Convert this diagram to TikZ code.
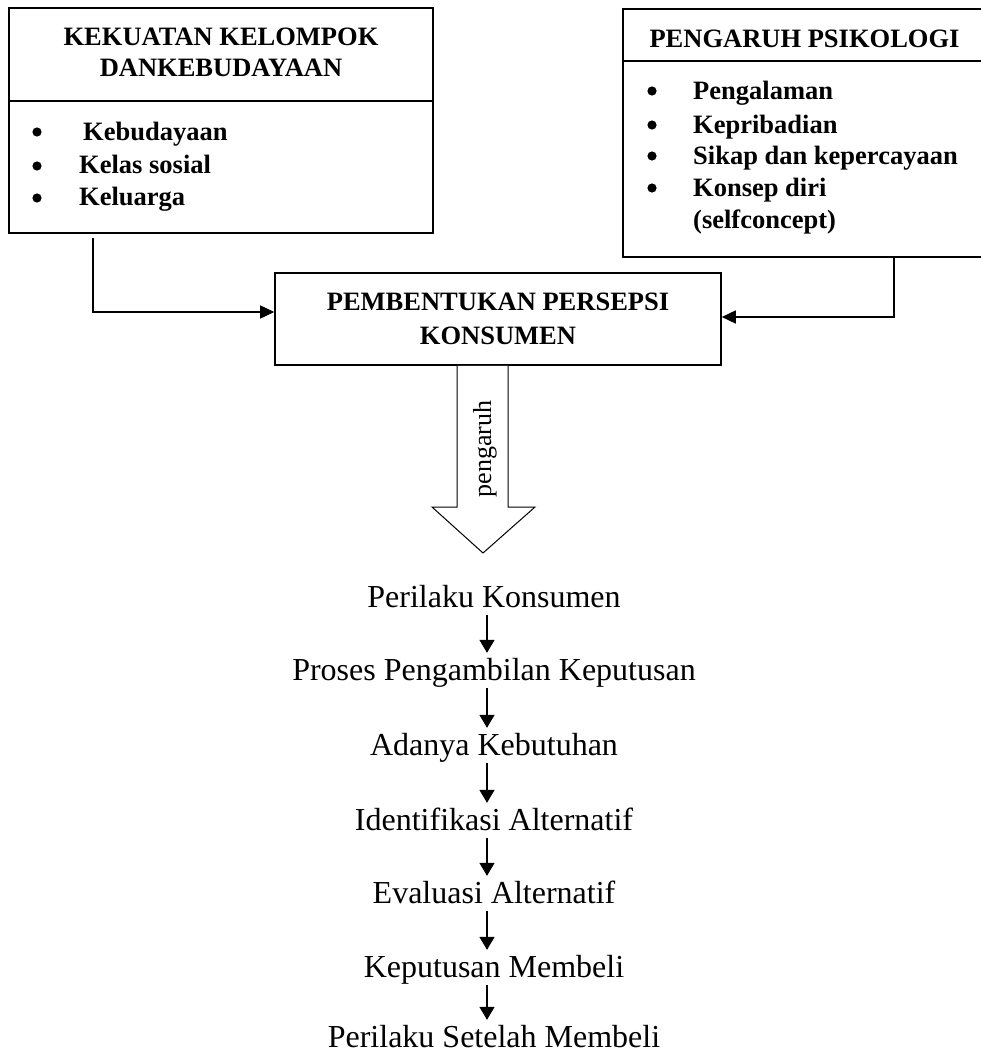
\documentclass[tikz,border=0pt]{standalone}
\usepackage{fontspec}
\setmainfont{Liberation Serif}
\usetikzlibrary{arrows.meta,calc}
\begin{document}
\begin{tikzpicture}[x=1pt,y=-1pt,
  boxframe/.style={draw,line width=1.6pt,inner sep=0pt},
  hd/.style={font=\fontsize{26.5}{31}\selectfont\bfseries,anchor=base,inner sep=0pt},
  item/.style={font=\fontsize{26.5}{31}\selectfont\bfseries,anchor=base west,inner sep=0pt},
  bul/.style={circle,fill=black,inner sep=0pt,minimum size=9.2pt},
  stage/.style={font=\fontsize{32}{38}\selectfont,anchor=base,inner sep=0pt,text height=23pt,text depth=7pt},
  conn/.style={line width=1.6pt,-{Triangle[length=14pt,width=13pt]}},
  smallarrow/.style={line width=1.6pt,-{Triangle[length=13pt,width=15pt]},shorten >=4pt,shorten <=1pt}
]
\useasboundingbox (0,0) rectangle (980,1052);
\fill[white] (0,0) rectangle (980,1052);

% left box
\node[boxframe,minimum width=424pt,minimum height=225pt] (lbox) at (221,120.5) {};
\draw[line width=1.6pt] ($(lbox.north west)+(0,94)$) -- ($(lbox.north east)+(0,94)$);
\node[hd] (lt1) at (221,45) {KEKUATAN KELOMPOK};
\node[hd] (lt2) at (221,76) {DANKEBUDAYAAN};
\node[bul] (lb1) at (37,132) {};
\node[bul] (lb2) at (37,166) {};
\node[bul] (lb3) at (37,198) {};
\node[item] (li1) at (83,140) {Kebudayaan};
\node[item] (li2) at (79,173) {Kelas sosial};
\node[item] (li3) at (79,205) {Keluarga};

% right box
\node[boxframe,minimum width=363pt,minimum height=248pt] (rbox) at (804.5,133) {};
\draw[line width=1.6pt] ($(rbox.north west)+(0,53)$) -- ($(rbox.north east)+(0,53)$);
\node[hd] (rt) at (804.5,47) {PENGARUH PSIKOLOGI};
\node[bul] (rb1) at (652,91) {};
\node[bul] (rb2) at (652,125) {};
\node[bul] (rb3) at (652,156) {};
\node[bul] (rb4) at (652,188) {};
\node[item] (ri1) at (693,99) {Pengalaman};
\node[item] (ri2) at (693,133) {Kepribadian};
\node[item] (ri3) at (693,164) {Sikap dan kepercayaan};
\node[item] (ri4) at (693,196) {Konsep diri};
\node[item] (ri5) at (693,228) {(selfconcept)};

% center box
\node[boxframe,minimum width=446pt,minimum height=92pt,align=center,
      font=\fontsize{26.5}{34}\selectfont\bfseries] (cbox) at (498,319)
      {PEMBENTUKAN PERSEPSI\\KONSUMEN};

% connectors to center box
\coordinate (lx) at (93,0);
\coordinate (rx) at (894,0);
\draw[conn] ($(lbox.south -| lx)+(0,4)$) |- ([yshift=7pt]cbox.west);
\draw[conn] (rbox.south -| rx) |- ([yshift=2pt]cbox.east);

% hollow arrow
\draw[line width=1pt,fill=white] (cbox.south -| 457,0) -- (457,507) -- (432,507) -- (483,553)
   -- (535,507) -- (508,507) -- (cbox.south -| 508,0);
\node[rotate=90,font=\fontsize{26}{30}\selectfont,inner sep=0pt] (pg) at (485,449) {pengaruh};

% stages
\node[stage] (s1) at (494,607) {Perilaku Konsumen};
\node[stage] (s2) at (494,680) {Proses Pengambilan Keputusan};
\node[stage] (s3) at (494,755) {Adanya Kebutuhan};
\node[stage] (s4) at (494,830) {Identifikasi Alternatif};
\node[stage] (s5) at (494,903) {Evaluasi Alternatif};
\node[stage] (s6) at (494,977) {Keputusan Membeli};
\node[stage] (s7) at (494,1047) {Perilaku Setelah Membeli};

\foreach \a/\b in {s1/s2,s2/s3,s3/s4,s4/s5,s5/s6,s6/s7}
  \draw[smallarrow] ([xshift=-7pt]\a.south) -- ([xshift=-7pt]\b.north);
\end{tikzpicture}
\end{document}
